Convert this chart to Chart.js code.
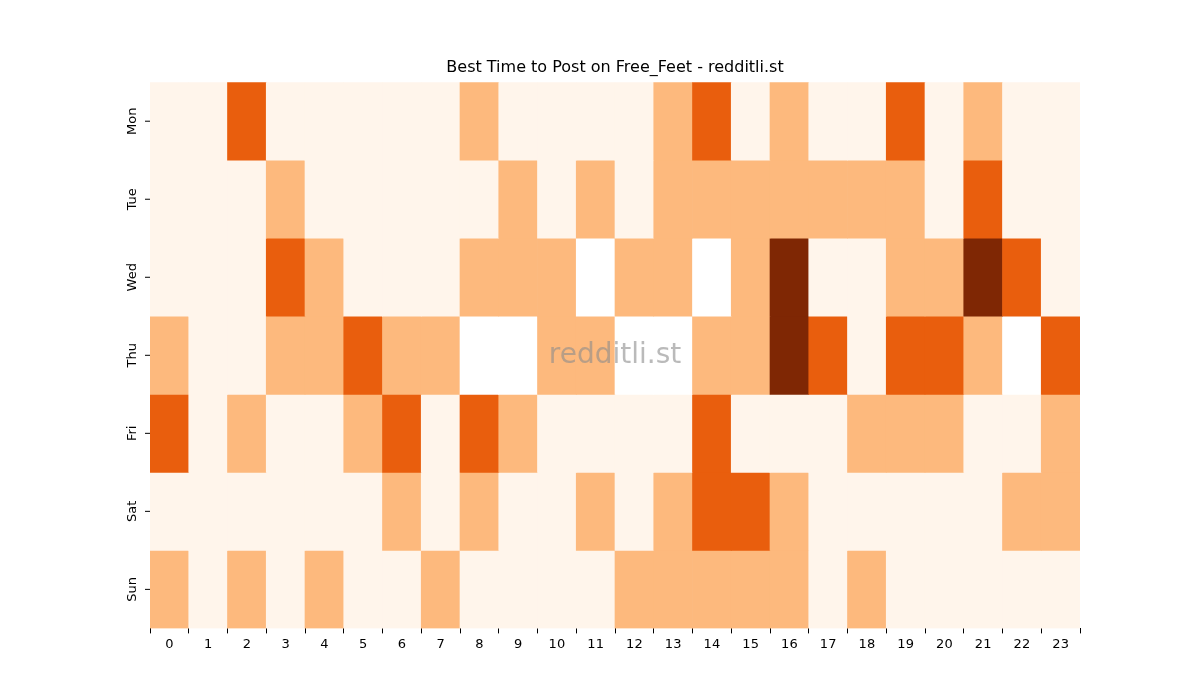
<!DOCTYPE html>
<html><head><meta charset="utf-8">
<script src="https://cdn.jsdelivr.net/npm/chart.js@4"></script>
<style>html,body{margin:0;background:#fff}</style></head>
<body><canvas id="c" width="1200" height="700" style="width:1200px;height:700px"></canvas>
<script>
const hours = ['0','1','2','3','4','5','6','7','8','9','10','11','12','13','14','15','16','17','18','19','20','21','22','23'];
const days = ['Mon','Tue','Wed','Thu','Fri','Sat','Sun'];
// -1 = empty (white), 0..3 intensity levels
const mon = [0,0,2,0,0,0,0,0,1,0,0,0,0,1,2,0,1,0,0,2,0,1,0,0];
const tue = [0,0,0,1,0,0,0,0,0,1,0,1,0,1,1,1,1,1,1,1,0,2,0,0];
const wed = [0,0,0,2,1,0,0,0,1,1,1,-1,1,1,-1,1,3,0,0,1,1,3,2,0];
const thu = [1,0,0,1,1,2,1,1,-1,-1,1,1,-1,-1,1,1,3,2,0,2,2,1,-1,2];
const fri = [2,0,1,0,0,1,2,0,2,1,0,0,0,0,2,0,0,0,1,1,1,0,0,1];
const sat = [0,0,0,0,0,0,1,0,1,0,0,1,0,1,2,2,1,0,0,0,0,0,1,1];
const sun = [1,0,1,0,1,0,0,1,0,0,0,0,1,1,1,1,1,0,1,0,0,0,0,0];
const rows = [mon,tue,wed,thu,fri,sat,sun];
const palette = {'-1':'#ffffff',0:'#fff5eb',1:'#fdb97d',2:'#e95e0d',3:'#7f2704'};

const yLabels = {
  id:'yLabels',
  afterDraw(chart){
    const {ctx, chartArea:a, scales:{y}} = chart;
    ctx.save();
    ctx.fillStyle='#000'; ctx.strokeStyle='#000'; ctx.lineWidth=1;
    ctx.font='13px "DejaVu Sans"'; ctx.textAlign='center'; ctx.textBaseline='middle';
    days.forEach((d,i)=>{
      const py = y.getPixelForValue(i+0.5);
      ctx.beginPath(); ctx.moveTo(a.left-5,py); ctx.lineTo(a.left,py); ctx.stroke();
      ctx.save(); ctx.translate(a.left-17,py); ctx.rotate(-Math.PI/2); ctx.fillText(d,0,0); ctx.restore();
    });
    ctx.font='28px "DejaVu Sans"'; ctx.fillStyle='rgba(140,140,140,0.6)';
    ctx.fillText('redditli.st',(a.left+a.right)/2,(a.top+a.bottom)/2);
    ctx.restore();
  }
};

new Chart(document.getElementById('c'),{
  type:'bar',
  data:{labels:hours, datasets:rows.map((r,i)=>({label:days[i], data:r.map(()=>1),
    backgroundColor:r.map(v=>palette[v]), borderWidth:0, barPercentage:1, categoryPercentage:1}))},
  options:{responsive:false, animation:false,
    layout:{padding:{left:150-0,right:120,top:0,bottom:45}},
    plugins:{legend:{display:false},tooltip:{enabled:false},
      title:{display:true,text:'Best Time to Post on Free_Feet - redditli.st',color:'#000',
        font:{family:'DejaVu Sans',size:16,weight:'normal'},padding:{top:58,bottom:5}}},
    scales:{
      x:{stacked:true, grid:{display:true,drawOnChartArea:false,drawTicks:true,tickLength:5,color:'#000'},
        border:{display:false}, ticks:{color:'#000',font:{family:'DejaVu Sans',size:13},maxRotation:0,padding:3}},
      y:{stacked:true, reverse:true, min:0, max:7, display:false}
    }},
  plugins:[yLabels]
});
</script></body></html>
